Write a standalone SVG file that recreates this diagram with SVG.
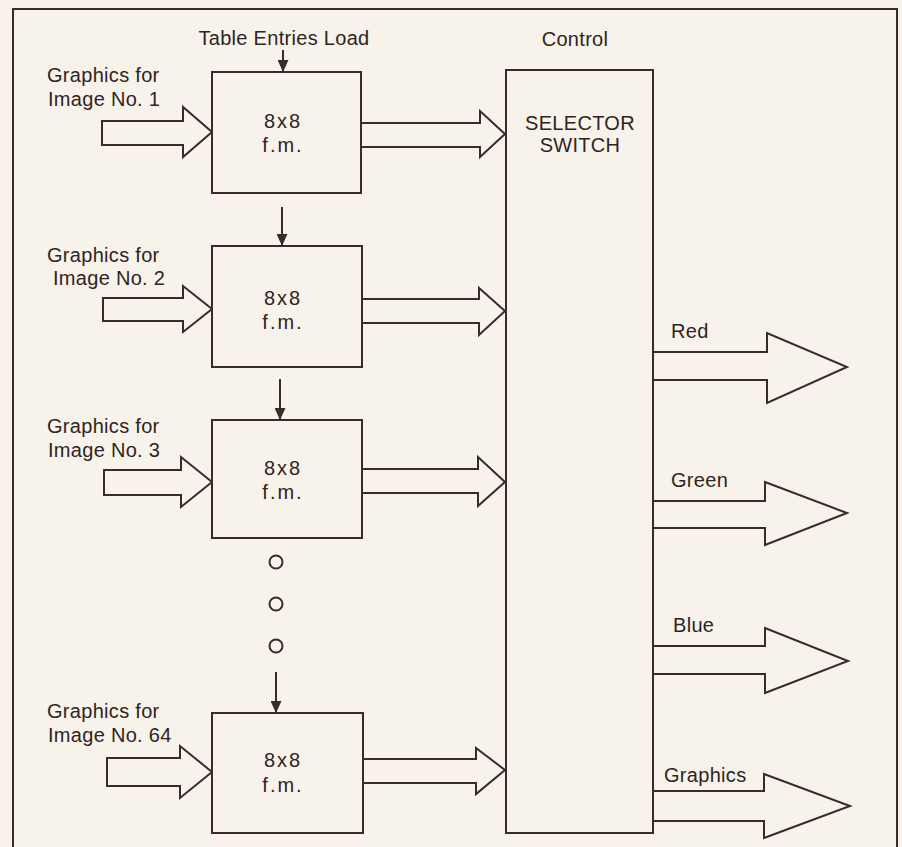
<svg xmlns="http://www.w3.org/2000/svg" width="902" height="847" viewBox="0 0 902 847">
<style>
.ln{fill:none;stroke:#3a2b24;stroke-width:2}
.bx{fill:#f7f2ea;stroke:#3a2b24;stroke-width:2}
.ar{fill:#f7f2ea;stroke:#3a2b24;stroke-width:2;stroke-linejoin:miter}
.t{font-family:"Liberation Sans",Arial,sans-serif;font-size:20px;fill:#2f241f;letter-spacing:0.3px}
.c{text-anchor:middle}
.fm{letter-spacing:2px}
</style>
<defs>
<marker id="ah" viewBox="0 0 12 12" refX="12" refY="6" markerWidth="12" markerHeight="11" markerUnits="userSpaceOnUse" orient="auto" preserveAspectRatio="none">
<path d="M0,0 L12,6 L0,12 Z" fill="#3a2b24"/>
</marker>
</defs>
<rect width="902" height="847" fill="#f7f2ea"/>
<path class="ln" d="M13,847 V9 H897 V847"/>

<g id="connectors">
<line class="ln" x1="283" y1="50" x2="283" y2="72" marker-end="url(#ah)"/>
<line class="ln" x1="282" y1="207" x2="282" y2="246" marker-end="url(#ah)"/>
<line class="ln" x1="280" y1="379" x2="280" y2="420" marker-end="url(#ah)"/>
<line class="ln" x1="276" y1="672" x2="276" y2="713" marker-end="url(#ah)"/>
<polygon class="ar" points="102,121 183,121 183,107 212,132 183,157 183,145 102,145"/>
<polygon class="ar" points="103,298 183,298 183,286 212,309 183,332 183,321 103,321"/>
<polygon class="ar" points="104,470 181,470 181,457 212,482 181,507 181,495 104,495"/>
<polygon class="ar" points="107,758 180,758 180,746 212,772 180,798 180,786 107,786"/>
<polygon class="ar" points="361,123 480,123 480,111 505,134 480,157 480,147 361,147"/>
<polygon class="ar" points="362,299 479,299 479,288 505,311 479,335 479,323 362,323"/>
<polygon class="ar" points="362,469 478,469 478,457 505,482 478,506 478,493 362,493"/>
<polygon class="ar" points="363,759 476,759 476,748 505,770 476,794 476,783 363,783"/>
<polygon class="ar" points="653,352 767,352 767,333 847,367 767,403 767,380 653,380"/>
<polygon class="ar" points="653,501 765,501 765,482 847,513 765,545 765,528 653,528"/>
<polygon class="ar" points="653,646 765,646 765,628 848,661 765,693 765,674 653,674"/>
<polygon class="ar" points="653,791 764,791 764,774 850,806 764,838 764,821 653,821"/>
</g>

<g id="label-table">
<text class="t c" x="284" y="45">Table Entries Load</text>
</g>
<g id="label-control">
<text class="t c" x="575" y="46">Control</text>
</g>

<g id="fm1">
<rect class="bx" x="212" y="72" width="149" height="121"/>
<text class="t c fm" x="283" y="128">8x8</text>
<text class="t c fm" x="283" y="152">f.m.</text>
</g>
<g id="fm2">
<rect class="bx" x="212" y="246" width="150" height="121"/>
<text class="t c fm" x="283" y="305">8x8</text>
<text class="t c fm" x="283" y="329">f.m.</text>
</g>
<g id="fm3">
<rect class="bx" x="212" y="420" width="150" height="118"/>
<text class="t c fm" x="283" y="475">8x8</text>
<text class="t c fm" x="283" y="499">f.m.</text>
</g>
<g id="fm64">
<rect class="bx" x="212" y="713" width="151" height="120"/>
<text class="t c fm" x="283" y="767">8x8</text>
<text class="t c fm" x="283" y="792">f.m.</text>
</g>

<g id="ellipsis">
<circle class="ln" cx="276" cy="562" r="6.5"/>
<circle class="ln" cx="276" cy="604" r="6.5"/>
<circle class="ln" cx="276" cy="646" r="6.5"/>
</g>

<g id="in1">
<text class="t" x="47" y="82">Graphics for</text>
<text class="t" x="48" y="106">Image No. 1</text>
</g>
<g id="in2">
<text class="t" x="47" y="262">Graphics for</text>
<text class="t" x="53" y="285">Image No. 2</text>
</g>
<g id="in3">
<text class="t" x="47" y="433">Graphics for</text>
<text class="t" x="48" y="457">Image No. 3</text>
</g>
<g id="in64">
<text class="t" x="47" y="718">Graphics for</text>
<text class="t" x="48" y="742">Image No. 64</text>
</g>

<g id="selector">
<rect class="bx" x="506" y="70" width="147" height="763"/>
<text class="t c" x="580" y="130">SELECTOR</text>
<text class="t c" x="580" y="152">SWITCH</text>
</g>

<g id="out-labels">
<text class="t" x="671" y="338">Red</text>
<text class="t" x="671" y="487">Green</text>
<text class="t" x="673" y="632">Blue</text>
<text class="t" x="664" y="782">Graphics</text>
</g>
</svg>
